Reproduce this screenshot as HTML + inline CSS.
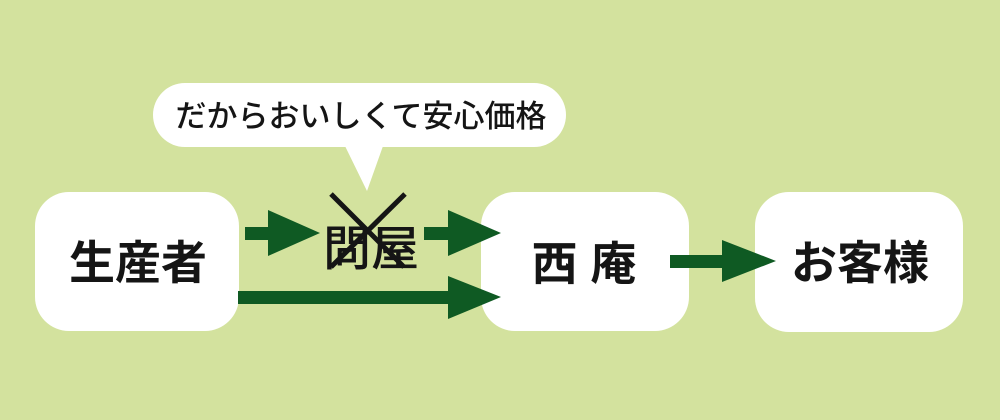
<!DOCTYPE html>
<html><head><meta charset="utf-8"><style>
body{margin:0;width:1000px;height:420px;overflow:hidden;background:#d3e29e}
svg{display:block}
text{font-family:"Liberation Sans","Noto Sans CJK JP",sans-serif;fill:#151515}
</style></head><body>
<svg width="1000" height="420" viewBox="0 0 1000 420">
<rect width="1000" height="420" fill="#d3e29e"/>
<rect x="35" y="192" width="204" height="139" rx="34" fill="#fff"/>
<rect x="481" y="192" width="208" height="139" rx="34" fill="#fff"/>
<rect x="755" y="192" width="208" height="140" rx="34" fill="#fff"/>
<rect x="153" y="83" width="413" height="64" rx="32" fill="#fff"/>
<polygon points="345,146 383,146 367,191" fill="#fff"/>
<text x="361" y="127" font-size="31" text-anchor="middle" font-weight="500">だからおいしくて安心価格</text>
<g fill="#0f5a23">
<rect x="245" y="227" width="25" height="13"/><polygon points="268,210 320,233 268,256"/>
<rect x="424" y="227" width="26" height="13"/><polygon points="448,210 501,233 448,256"/>
<rect x="238" y="291" width="212" height="13"/><polygon points="448,276 501,297 448,319"/>
<rect x="670" y="255" width="54" height="13"/><polygon points="722,240 776,261 722,282"/>
</g>
<text x="371" y="265" font-size="48" text-anchor="middle" font-weight="500">問屋</text>
<g stroke="#151515" stroke-width="5">
<line x1="331" y1="194" x2="404" y2="267"/><line x1="405" y1="194" x2="331" y2="267"/>
</g>
<text x="138" y="279" font-size="46" text-anchor="middle" font-weight="bold">生産者</text>
<text x="584" y="280" font-size="46" text-anchor="middle" font-weight="bold">西 庵</text>
<text x="860" y="279" font-size="46" text-anchor="middle" font-weight="bold">お客様</text>
</svg>
</body></html>
